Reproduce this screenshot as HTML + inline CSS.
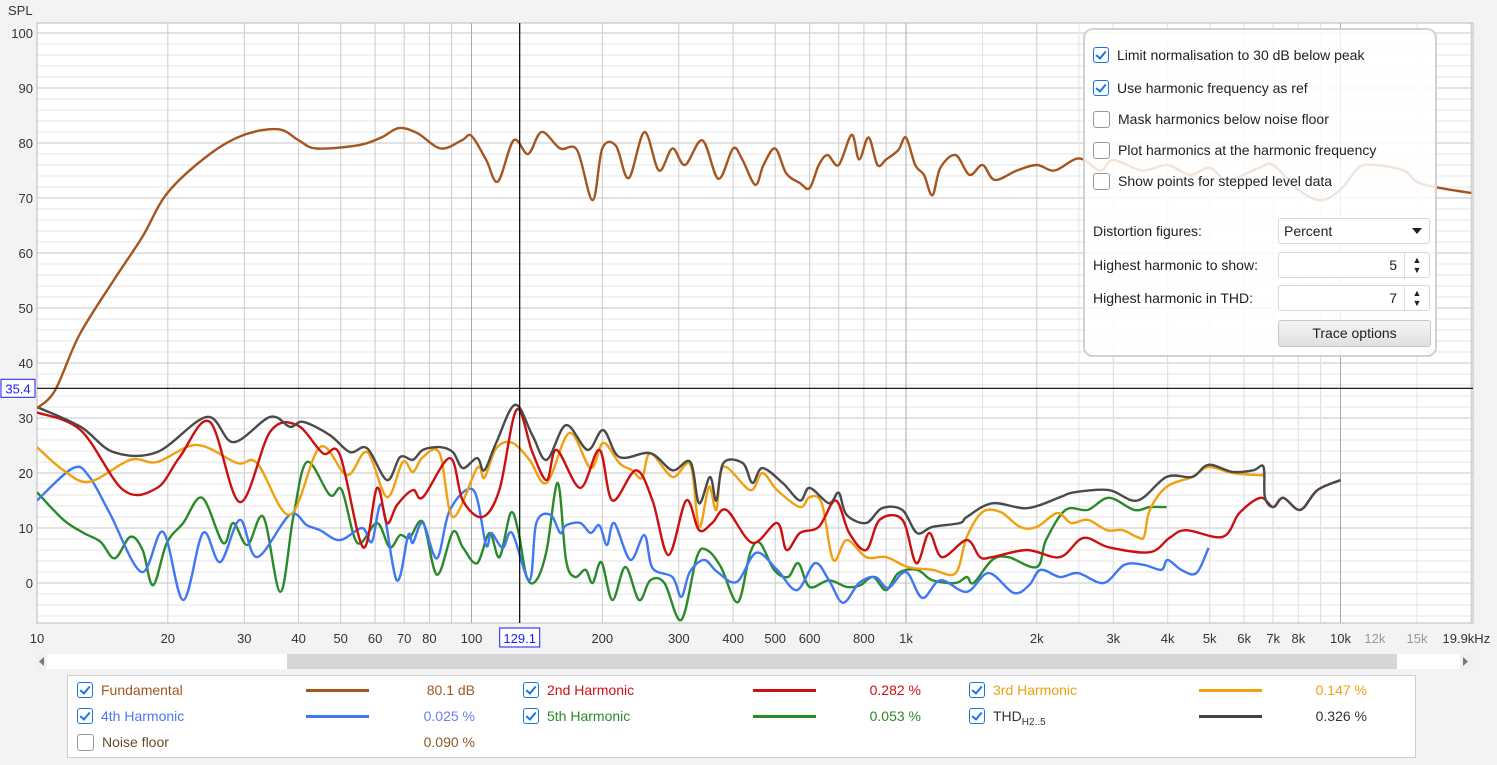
<!DOCTYPE html>
<html><head><meta charset="utf-8">
<style>
body{margin:0;width:1497px;height:765px;background:#f3f3f3;font-family:"Liberation Sans",sans-serif;position:relative;overflow:hidden}
svg{position:absolute;left:0;top:0}
.opt{position:absolute;left:1083px;top:28px;width:350px;height:325px;border:2px solid #d2d2d2;border-radius:10px;background:rgba(255,255,255,0.84);font-size:14px;color:#222}
.cbrow{position:absolute;left:8px;height:20px;line-height:20px}
.cb{display:inline-block;width:15px;height:15px;border:1px solid #999;border-radius:3px;vertical-align:middle;margin-right:8px;background:#fff;position:relative;top:-1px}
.cb.on{border-color:#1a73e8;border-width:1.5px;width:14px;height:14px}
.cb.on::after{content:"";position:absolute;left:4px;top:1px;width:4px;height:8px;border:solid #1a73e8;border-width:0 2px 2px 0;transform:rotate(40deg)}
.lbl{position:absolute;left:8px}
.fld{position:absolute;left:193px;width:150px;height:24px;border:1px solid #d8d8d8;border-radius:3px;background:#fff;line-height:24px;font-size:14px}
.btn{position:absolute;left:193px;top:290px;width:151px;height:25px;border:1px solid #c8c8c8;border-radius:3px;background:linear-gradient(#f4f4f4,#e0e0e0);text-align:center;line-height:25px}
.legend{position:absolute;left:67px;top:675px;width:1347px;height:81px;background:#fff;border:1px solid #cfcfcf;font-size:14px}
.li{position:absolute;height:20px;line-height:20px}
.ln{position:absolute;height:3px}
.val{position:absolute;text-align:right;width:100px}
</style></head><body>
<svg id="chart" width="1497" height="765"></svg>

<div class="opt">
 <div class="cbrow" style="top:15px"><span class="cb on"></span>Limit normalisation to 30 dB below peak</div>
 <div class="cbrow" style="top:48px"><span class="cb on"></span>Use harmonic frequency as ref</div>
 <div class="cbrow" style="top:79px"><span class="cb"></span>Mask harmonics below noise floor</div>
 <div class="cbrow" style="top:110px"><span class="cb"></span>Plot harmonics at the harmonic frequency</div>
 <div class="cbrow" style="top:141px"><span class="cb"></span>Show points for stepped level data</div>
 <div class="lbl" style="top:193px">Distortion figures:</div>
 <div class="fld" style="top:188px;padding-left:0"><span style="margin-left:5px">Percent</span><span style="position:absolute;right:7px;top:9px;border-left:5px solid transparent;border-right:5px solid transparent;border-top:6px solid #222"></span></div>
 <div class="lbl" style="top:227px">Highest harmonic to show:</div>
 <div class="fld" style="top:222px"><span style="position:absolute;right:32px">5</span><span style="position:absolute;right:0;top:0;width:24px;height:24px;border-left:1px solid #e0e0e0;font-size:9px;line-height:10px;text-align:center;padding-top:2px">▲<br>▼</span></div>
 <div class="lbl" style="top:260px">Highest harmonic in THD:</div>
 <div class="fld" style="top:255px"><span style="position:absolute;right:32px">7</span><span style="position:absolute;right:0;top:0;width:24px;height:24px;border-left:1px solid #e0e0e0;font-size:9px;line-height:10px;text-align:center;padding-top:2px">▲<br>▼</span></div>
 <div class="btn">Trace options</div>
</div>

<div class="legend">
 <div class="li" style="left:9px;top:4px;color:#a5561f"><span class="cb on"></span>Fundamental</div>
 <div class="ln" style="left:238px;top:13px;width:63px;background:#a5561f"></div>
 <div class="val li" style="left:307px;top:4px;color:#a5561f">80.1 dB</div>
 <div class="li" style="left:455px;top:4px;color:#d01010"><span class="cb on"></span>2nd Harmonic</div>
 <div class="ln" style="left:685px;top:13px;width:63px;background:#d01010"></div>
 <div class="val li" style="left:753px;top:4px;color:#d01010">0.282 %</div>
 <div class="li" style="left:901px;top:4px;color:#f0a010"><span class="cb on"></span>3rd Harmonic</div>
 <div class="ln" style="left:1131px;top:13px;width:63px;background:#f0a010"></div>
 <div class="val li" style="left:1199px;top:4px;color:#f0a010">0.147 %</div>

 <div class="li" style="left:9px;top:30px;color:#4a78f0"><span class="cb on"></span>4th Harmonic</div>
 <div class="ln" style="left:238px;top:39px;width:63px;background:#3f78f5"></div>
 <div class="val li" style="left:307px;top:30px;color:#6a80f0">0.025 %</div>
 <div class="li" style="left:455px;top:30px;color:#2a8a2a"><span class="cb on"></span>5th Harmonic</div>
 <div class="ln" style="left:685px;top:39px;width:63px;background:#2a8a2a"></div>
 <div class="val li" style="left:753px;top:30px;color:#2a8a2a">0.053 %</div>
 <div class="li" style="left:901px;top:30px;color:#333"><span class="cb on"></span>THD<sub style="font-size:10px">H2..5</sub></div>
 <div class="ln" style="left:1131px;top:39px;width:63px;background:#444"></div>
 <div class="val li" style="left:1199px;top:30px;color:#333">0.326 %</div>

 <div class="li" style="left:9px;top:56px;color:#6b4a2a"><span class="cb"></span>Noise floor</div>
 <div class="val li" style="left:307px;top:56px;color:#8a5a2a">0.090 %</div>
</div>

<script>
const fundamental=[[10,31.8],[11,35],[12.5,45],[15,55],[17.5,63],[20,71],[25,78],[30,81.5],[36,82.5],[40,80.5],[44,79],[55,79.6],[62,81],[68,82.7],[75,81.8],[85,79],[95,80.5],[100,81.3],[108,77],[115,73],[125,80.5],[135,78],[145,82],[160,79],[175,78.7],[190,69.6],[200,79],[215,79.5],[230,73.6],[250,82],[270,75],[290,79],[310,76],[340,80.5],[370,73.5],[400,79],[420,77],[450,72.4],[470,76],[500,79],[530,74.5],[570,72.7],[600,71.8],[630,76],[660,77.8],[700,76],[750,81.5],[780,77],[820,81],[860,76],[900,77],[960,78.7],[1000,81],[1050,76],[1100,74.2],[1150,70.5],[1200,75.5],[1300,77.8],[1400,74.2],[1500,76],[1600,73.3],[1800,75],[2000,76],[2200,75],[2500,77.2],[2800,75],[3000,76.9],[3500,75],[4000,76],[4500,74.2],[5000,75.5],[5500,73.3],[6500,75.5],[7000,76],[8000,71.5],[9000,69.6],[10000,71.5],[11000,75.5],[12000,76],[14000,75],[15000,72.9],[17000,71.8],[20000,70.9]];
const harmonic2=[[10,31],[12.6,27.8],[15.8,16.9],[18.9,17.3],[21.3,22.9],[25,29.3],[29.3,14.7],[34.4,27.5],[39.7,28.7],[45.5,23.6],[49.8,23.3],[56.3,6.5],[60.6,17.3],[63.9,10.9],[67.4,14.2],[73.3,16.9],[77.3,15.6],[89.2,22.7],[95.5,15],[106,12],[116,17],[127,31.5],[138,23.8],[149,18.7],[157,24.2],[178,17.3],[197,24.2],[211,15],[239,20.5],[261,15],[284,5.1],[312,15],[334,9.6],[358,10.9],[386,13.3],[443,7.3],[505,10.9],[531,6],[570,9.1],[630,10.2],[689,15],[740,9.1],[810,6],[870,11.5],[981,11.5],[1056,3.6],[1130,9.1],[1210,4.7],[1380,7.8],[1480,4.7],[1580,4.7],[1900,6],[2260,4.7],[2560,8.2],[2930,6.5],[3640,5.6],[4040,8.2],[4410,9.6],[5360,8.4],[5850,12.7],[6540,15.5],[7000,13.8],[7380,15.5],[8080,13.3],[8850,16.9],[10000,18.7]];
const harmonic3=[[10,24.7],[11.5,20.5],[13.2,18.4],[16.4,22.4],[18.9,22],[23.3,25.1],[28.9,21.8],[32.1,21.8],[38.2,12.4],[44.8,24.7],[51.7,19.6],[57.5,23.8],[63.9,15.6],[69.5,22],[73.3,20.2],[77.3,22.9],[84.5,23.6],[90.6,12],[103,20.9],[107,19.1],[114,24.5],[124,25.5],[136,22.4],[149,18.2],[168,27.3],[188,20.9],[201,25.5],[219,21.8],[234,20.5],[247,19.1],[258,23.6],[290,19.3],[319,21.5],[334,10.2],[352,17.5],[366,13.3],[380,21.1],[438,16.9],[467,20],[505,16.9],[570,13.8],[600,15.6],[640,14.5],[680,4.2],[730,7.8],[810,4.7],[900,4.7],[1010,2.9],[1150,2.4],[1300,1.8],[1380,8.4],[1500,12.9],[1650,12.9],[1830,10.2],[2000,10.2],[2230,12.7],[2400,10.9],[2620,11.5],[2900,9.6],[3150,9.6],[3400,8.4],[3530,8.4],[3640,13.3],[3980,17.5],[4560,19.3],[4970,21.1],[5640,20],[6540,19.6],[6650,19.8]];
const harmonic4=[[10,15],[12.1,20.9],[13.2,19.3],[14.7,12.7],[17.4,2],[19.5,9.3],[21.7,-3.1],[24.1,9.1],[26.4,3.8],[29.3,11.5],[32.1,4.7],[38.2,12.4],[41.8,10.5],[44.8,9.6],[49.8,7.8],[56,10],[59,7.5],[62.2,14.2],[67.3,0.5],[71.5,8.7],[73.3,7.3],[77.3,10.9],[83.3,4.5],[89.2,13.3],[101,16.9],[108,6.9],[111,9.1],[118,6.4],[124,9.1],[136,0.5],[141,10.9],[152,12.4],[160,9.1],[165,10.5],[178,10.9],[188,9.1],[197,10.5],[205,6.9],[213,10.9],[232,4.2],[250,8.7],[261,2.7],[290,1.1],[304,-2.5],[318,2],[343,4.2],[368,2],[408,0.2],[452,5.5],[505,2.4],[561,-1.3],[617,3.6],[665,0.5],[716,-3.6],[780,0],[850,1.1],[910,-0.9],[1000,2],[1090,-2.7],[1200,0.5],[1380,-1.6],[1550,1.8],[1770,-1.8],[1920,-0.4],[2040,2.4],[2260,1.1],[2490,1.8],[2850,0],[3180,3.3],[3530,3.3],[3870,2.4],[4000,4.2],[4300,2.4],[4660,1.8],[4970,6.4]];
const harmonic5=[[10,16.5],[11.5,11.5],[12.8,9.1],[14,7.5],[15.1,4.5],[16.4,8.4],[17.5,6],[18.5,-0.4],[19.9,7.3],[21.7,10.9],[24,15.5],[26.8,7.3],[28.3,10.9],[30.5,6.9],[33.2,12],[36.3,-1.6],[38.9,12],[41.8,22],[47.2,16],[50.3,16.9],[54.6,7.3],[60.6,10.9],[64.8,6.5],[68.5,8.7],[72,8.2],[77.3,11.1],[83.3,1.5],[90.6,9.3],[95.5,6.5],[103,3.6],[110,9.1],[116,4.7],[123,12.7],[128,9.6],[134,1.1],[141,0.5],[149,6],[158,18.2],[165,4.2],[173,1.1],[183,2.4],[190,0],[199,3.8],[211,-3.1],[226,2.9],[243,-3.1],[258,0.5],[278,0],[304,-6.7],[330,4.7],[348,6],[375,2.9],[410,-3.5],[438,5.5],[461,7.3],[497,2.4],[535,1.1],[565,3.6],[600,-0.7],[665,0.5],[730,-0.7],[785,-0.4],[840,1.1],[900,-1.3],[960,1.8],[1060,2.4],[1150,0.5],[1300,0],[1380,1.1],[1430,0],[1580,4.2],[1720,4.7],[2000,2.9],[2100,7.8],[2330,13.3],[2620,13.3],[2930,15.5],[3350,13.3],[3640,13.8],[3980,13.8]];
const thd=[[10,32],[12.6,28.4],[15,23.8],[18.9,23.8],[24.6,30.2],[28.3,25.6],[34.4,30.2],[38.2,28.4],[41,29.3],[47.2,26.9],[52.5,23.8],[57.5,24.5],[63.9,18.7],[68.5,22.9],[73.3,22.4],[77.3,24.2],[84.5,24.7],[90.6,23.8],[95.5,20.9],[103,22.7],[107,20.5],[114,25.5],[126,32.4],[138,26.9],[149,22.4],[165,28.7],[185,24.2],[201,27.8],[219,22.9],[258,23.6],[290,20.5],[319,22],[334,14.5],[354,19.3],[366,15],[380,21.8],[421,21.8],[443,18.2],[467,20.9],[520,18.2],[570,15],[600,17.3],[665,14.5],[700,16.4],[730,12.4],[810,10.9],[880,13.6],[980,13.3],[1060,9.1],[1150,10.2],[1330,10.9],[1380,12],[1580,14.5],[1900,13.6],[2260,15.6],[2440,16.5],[2930,16.9],[3410,15],[3980,19.3],[4560,19.3],[4970,21.5],[5640,20.2],[6300,20.5],[6650,21.1],[6700,15.6],[7000,13.8],[7380,15.5],[8080,13.3],[8850,16.9],[10000,18.7]];
const yTicks=[0,10,20,30,40,50,60,70,80,90,100];
const xTickFreqs=[10,20,30,40,50,60,70,80,100,200,300,400,500,600,800,1000,2000,3000,4000,5000,6000,7000,8000,10000,12000,15000,19900];
const xTickLabels=["10","20","30","40","50","60","70","80","100","200","300","400","500","600","800","1k","2k","3k","4k","5k","6k","7k","8k","10k","12k","15k","19.9kHz"];
const cursorFreq=129.1, cursorDb=35.4;

const NS="http://www.w3.org/2000/svg";
const L=37,R=1473,T=23,B=623;
const X=f=>L+(Math.log10(f)-1)*434.5;
const Y=d=>583-d*5.5;
const svg=document.getElementById('chart');
function mk(tag,attrs,parent){const e=document.createElementNS(NS,tag);for(const k in attrs)e.setAttribute(k,attrs[k]);(parent||svg).appendChild(e);return e;}

mk('rect',{x:L,y:T,width:R-L,height:B-T,fill:'#fff'});
const grid=mk('g',{});


for(let d=-6;d<=100;d+=2){
  const maj=d%10===0;
  mk('line',{x1:L,x2:R,y1:Y(d),y2:Y(d),stroke:maj?'#c4c4c4':'#e6e6e6','stroke-width':1},grid);
}
for(let dec=10;dec<=10000;dec*=10){
  for(let m=1;m<10;m++){
    const f=dec*m; if(f>20000)break;
    const x=X(f);
    mk('line',{x1:x,x2:x,y1:T,y2:B,stroke:m===1?'#a8a8a8':'#cdcdcd','stroke-width':1},grid);
    if(dec>=1000){
      const h=X(f*1.5>dec*(m+1)?f:f+dec/2);
      mk('line',{x1:h,x2:h,y1:T,y2:B,stroke:'#e4e4e4','stroke-width':1},grid);
    }
  }
}
mk('line',{x1:X(20000),x2:X(20000),y1:T,y2:B,stroke:'#cdcdcd'},grid);
mk('rect',{x:L,y:T,width:R-L,height:B-T,fill:'none',stroke:'#bbb'});

const yl=mk('text',{x:8,y:15,'font-size':13,fill:'#333','font-family':'Liberation Sans, sans-serif'});
yl.textContent='SPL';


yTicks.forEach(v=>{
  const t=mk('text',{x:33,y:Y(v)+5,'text-anchor':'end','font-size':13,fill:'#333','font-family':'Liberation Sans, sans-serif'});
  t.textContent=v;
  
  
});
xTickFreqs.forEach((f,i)=>{
  const lab=xTickLabels[i];
  let x=X(f);
  const t=mk('text',{x:x,y:643,'text-anchor':i===0?'middle':(lab==='19.9kHz'?'middle':'middle'),'font-size':13,fill:(lab==='12k'||lab==='15k')?'#999':'#333','font-family':'Liberation Sans, sans-serif'});
  if(lab==='19.9kHz')t.setAttribute('x',x-4);
  t.textContent=lab;
  
  
});

mk('clipPath',{id:'pc'}).appendChild((()=>{const r=document.createElementNS(NS,'rect');r.setAttribute('x',L);r.setAttribute('y',T);r.setAttribute('width',R-L);r.setAttribute('height',B-T);return r;})());
function pathD(data){
  const p=data.map(([f,d])=>[X(f),Y(d)]);
  let s='M'+p[0][0].toFixed(1)+','+p[0][1].toFixed(1);
  for(let i=0;i<p.length-1;i++){
    const p0=p[Math.max(0,i-1)],p1=p[i],p2=p[i+1],p3=p[Math.min(p.length-1,i+2)];
    const c1x=p1[0]+(p2[0]-p0[0])/6,c1y=p1[1]+(p2[1]-p0[1])/6;
    const c2x=p2[0]-(p3[0]-p1[0])/6,c2y=p2[1]-(p3[1]-p1[1])/6;
    s+=`C${c1x.toFixed(1)},${c1y.toFixed(1)} ${c2x.toFixed(1)},${c2y.toFixed(1)} ${p2[0].toFixed(1)},${p2[1].toFixed(1)}`;
  }
  return s;
}
const series=[[harmonic5,'#2a8a2a','series-5th-harmonic'],[harmonic4,'#3f78f5','series-4th-harmonic'],[harmonic3,'#f0a010','series-3rd-harmonic'],[harmonic2,'#cc1010','series-2nd-harmonic'],[thd,'#4a4a4a','series-thd'],[fundamental,'#a5561f','series-fundamental']];
const sg=mk('g',{'clip-path':'url(#pc)'});
series.forEach(([data,col,name])=>{
  const p=mk('path',{d:pathD(data),fill:'none',stroke:col,'stroke-width':2.4,'stroke-linejoin':'round'},sg);
  
  
});

// cursor
const cx=X(cursorFreq),cy=Y(cursorDb);
const vc=mk('line',{x1:cx,x2:cx,y1:T,y2:B,stroke:'#000','stroke-width':1.2});


const hc=mk('line',{x1:L,x2:R,y1:cy,y2:cy,stroke:'#000','stroke-width':1.2});


mk('rect',{x:1,y:cy-9,width:34,height:18,fill:'#fff',stroke:'#1a1aff'});
const cyl=mk('text',{x:18,y:cy+5,'text-anchor':'middle','font-size':13,fill:'#1a1aff','font-family':'Liberation Sans, sans-serif'});
cyl.textContent=cursorDb.toFixed(1);


mk('rect',{x:cx-20,y:628,width:40,height:19,fill:'#fff',stroke:'#1a1aff'});
const cxl=mk('text',{x:cx,y:643,'text-anchor':'middle','font-size':13,fill:'#1a1aff','font-family':'Liberation Sans, sans-serif'});
cxl.textContent=cursorFreq.toFixed(1);


// hide the 100 tick label under cursor? keep as is

// scrollbar
const sb=mk('g',{});


mk('rect',{x:36,y:654,width:1437,height:15,fill:'#f0f0f0'},sb);
mk('rect',{x:47,y:654,width:240,height:15,fill:'#fff'},sb);
mk('rect',{x:287,y:654,width:1110,height:15,fill:'#d6d6d6'},sb);
mk('rect',{x:1397,y:654,width:63,height:15,fill:'#fff'},sb);
mk('path',{d:'M44,657 L39,661.5 L44,666 Z',fill:'#777'},sb);
mk('path',{d:'M1463,657 L1468,661.5 L1463,666 Z',fill:'#777'},sb);
</script>
</body></html>
